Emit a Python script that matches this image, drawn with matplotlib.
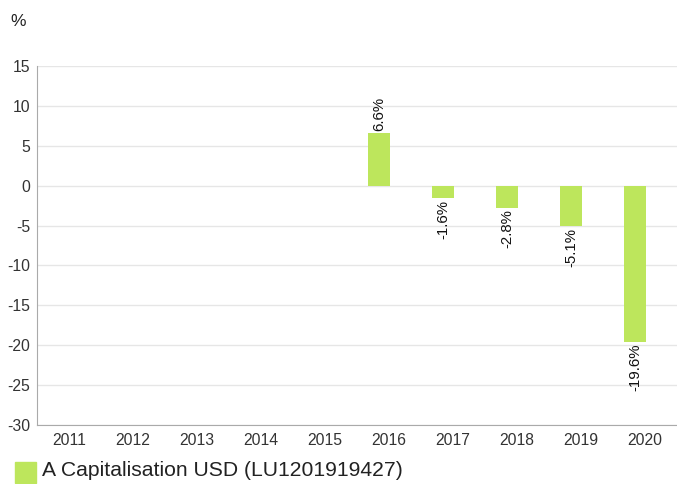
import matplotlib
matplotlib.use("Agg")
import matplotlib.pyplot as plt
from matplotlib.patches import Rectangle

plt.rcParams["font.family"] = ["Liberation Sans", "DejaVu Sans"]
plt.rcParams["axes.unicode_minus"] = False

years = ["2011", "2012", "2013", "2014", "2015", "2016", "2017", "2018", "2019", "2020"]
values = [None, None, None, None, None, 6.6, -1.6, -2.8, -5.1, -19.6]
series_name = "A Capitalisation USD (LU1201919427)"
bar_color = "#bde65c"

fig = plt.figure(figsize=(6.77, 4.84), dpi=100)
ax = fig.add_axes([37 / 677, 59 / 484, 640 / 677, 359 / 484])

x = list(range(len(years)))
off = -0.155  # bars sit a bit left of the category centre
for i, v in enumerate(values):
    if v is None:
        continue
    ax.bar(i + off, v, width=0.34, color=bar_color, zorder=3)
    if v >= 0:
        ax.text(i + off, v + 0.2, "%.1f%%" % v, rotation=90, ha="center", va="bottom",
                fontsize=10.8, color="#111111")
    else:
        ax.text(i + off, v - 0.2, "%.1f%%" % v, rotation=90, ha="center", va="top",
                fontsize=10.8, color="#111111")

ax.set_xlim(-0.5, 9.5)
ax.set_ylim(-30, 15)
ax.set_yticks(range(-30, 16, 5))
ax.set_xticks(x)
ax.set_xticklabels(years)
ax.grid(axis="y", color="#e6e6e6", linewidth=1, zorder=0)
ax.set_axisbelow(True)
for s in ["top", "right"]:
    ax.spines[s].set_visible(False)
ax.spines["left"].set_color("#aaaaaa")
ax.spines["bottom"].set_color("#aaaaaa")
ax.tick_params(axis="both", length=0, labelsize=11.3, colors="#333333", pad=6)
ax.tick_params(axis="y", pad=5)

fig.text(0.016, 0.955, "%", fontsize=12.5, color="#222222", va="center")

fig.patches.append(Rectangle((15 / 677, 1 - 483 / 484), 21 / 677, 21 / 484,
                             transform=fig.transFigure, color=bar_color))
fig.text(42 / 677, 1 - 471 / 484, series_name, fontsize=15.2, color="#222222", va="center")

fig.savefig("out.png", dpi=100)
